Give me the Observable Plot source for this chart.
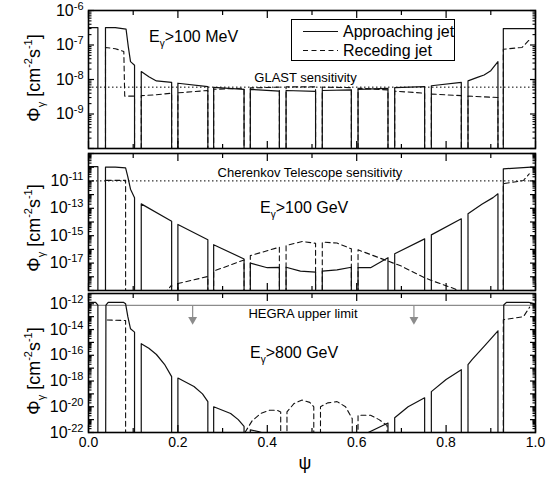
<!DOCTYPE html>
<html><head><meta charset="utf-8">
<script src="https://cdn.jsdelivr.net/npm/d3@7"></script>
<script src="https://cdn.jsdelivr.net/npm/@observablehq/plot@0.6"></script>
<style>
body{margin:0;background:#fff;}
#chart{width:556px;height:478px;background:#fff;}
#chart svg{display:block;}
</style></head><body><div id="chart"></div>
<script>
const F = 1e-30; // off-scale floor: curve drops out of the panel

// ---- Panel 1: E_gamma > 100 MeV  [psi, flux]
const app100MeV = [
[0,3.2e-7],[0.021,3.2e-7],[0.021,F],
[0.038,F],[0.038,3.2e-7],[0.06,3.2e-7],[0.084,2.9e-7],[0.089,9e-8],[0.094,3.3e-8],[0.103,2.6e-8],[0.103,F],
[0.118,F],[0.118,1.7e-8],[0.135,1.2e-8],[0.152,9.1e-9],[0.186,8.3e-9],[0.186,F],
[0.200,F],[0.200,7.8e-9],[0.267,6.2e-9],[0.267,F],
[0.280,F],[0.280,5.9e-9],[0.348,5.2e-9],[0.348,F],
[0.362,F],[0.362,5.2e-9],[0.427,4.6e-9],[0.427,F],
[0.442,F],[0.442,4.8e-9],[0.508,4.5e-9],[0.508,F],
[0.523,F],[0.523,4.8e-9],[0.588,5.0e-9],[0.588,F],
[0.603,F],[0.603,5.2e-9],[0.670,5.5e-9],[0.670,F],
[0.685,F],[0.685,5.8e-9],[0.752,6.2e-9],[0.752,F],
[0.767,F],[0.767,6.6e-9],[0.834,8.3e-9],[0.834,F],
[0.849,F],[0.849,9.1e-9],[0.87,1.15e-8],[0.885,1.35e-8],[0.9,1.8e-8],[0.916,3.3e-8],[0.916,F],
[0.928,F],[0.928,3.0e-7],[1.0,3.0e-7]
];
const rec100MeV = [
[0.038,F],[0.038,8.5e-8],[0.06,7.8e-8],[0.079,6.5e-8],[0.081,3.3e-9],[0.103,3.3e-9],[0.103,F],
[0.118,F],[0.118,3.4e-9],[0.15,3.6e-9],[0.186,4.0e-9],[0.186,F],
[0.2,F],[0.2,4.1e-9],[0.267,4.8e-9],[0.267,F],
[0.28,F],[0.28,5.2e-9],[0.348,5.6e-9],[0.348,F],
[0.362,F],[0.362,5.7e-9],[0.427,6.0e-9],[0.427,F],
[0.442,F],[0.442,6.1e-9],[0.508,6.1e-9],[0.508,F],
[0.523,F],[0.523,6.0e-9],[0.588,5.8e-9],[0.588,F],
[0.603,F],[0.603,5.6e-9],[0.670,5.0e-9],[0.670,F],
[0.685,F],[0.685,4.6e-9],[0.752,4.0e-9],[0.752,F],
[0.767,F],[0.767,3.8e-9],[0.834,3.4e-9],[0.834,F],
[0.849,F],[0.849,3.3e-9],[0.916,3.0e-9],[0.916,F],
[0.928,F],[0.928,7.5e-8],[0.97,8.5e-8],[0.986,1.4e-7]
];
const glastSensitivity = 6e-9;

// ---- Panel 2: E_gamma > 100 GeV
const app100GeV = [
[0,1.1e-10],[0.021,1.1e-10],[0.021,F],
[0.038,F],[0.038,1.0e-10],[0.06,1.0e-10],[0.083,9e-11],[0.088,2e-11],[0.094,2.5e-12],[0.103,6e-13],[0.103,F],
[0.118,F],[0.118,2.1e-13],[0.186,1.15e-14],[0.186,F],
[0.2,F],[0.2,6.6e-15],[0.267,5e-16],[0.267,F],
[0.28,F],[0.28,2.2e-16],[0.348,2e-17],[0.348,F],
[0.362,F],[0.362,1e-17],[0.40,4.6e-18],[0.427,4.8e-18],[0.427,F],
[0.442,F],[0.442,5e-18],[0.474,2.6e-18],[0.508,2.2e-18],[0.508,F],
[0.523,F],[0.523,2.6e-18],[0.556,3.2e-18],[0.588,5e-18],[0.588,F],
[0.603,F],[0.603,4.6e-18],[0.631,4.6e-18],[0.67,2.5e-17],[0.67,F],
[0.685,F],[0.685,4.8e-17],[0.752,5.9e-16],[0.752,F],
[0.767,F],[0.767,1.15e-15],[0.834,1.7e-14],[0.834,F],
[0.849,F],[0.849,4e-14],[0.88,2e-13],[0.905,6e-13],[0.916,1.15e-12],[0.916,F],
[0.928,F],[0.928,7.6e-11],[0.99,1e-10],[1.0,1e-10]
];
const rec100GeV = [
[0.04,1.1e-11],[0.083,1.1e-11],[0.083,F],
[0.15,1e-20],[0.186,2.5e-19],[0.186,F],
[0.2,F],[0.2,3.2e-19],[0.267,1.05e-18],[0.267,F],
[0.28,F],[0.28,2.6e-18],[0.348,1.7e-17],[0.348,F],
[0.362,F],[0.362,3.5e-17],[0.427,1.45e-16],[0.427,F],
[0.442,F],[0.442,1.9e-16],[0.478,3.8e-16],[0.508,2.8e-16],[0.508,F],
[0.523,F],[0.523,3.4e-16],[0.556,2.9e-16],[0.588,1.1e-16],[0.588,F],
[0.603,F],[0.603,9.3e-17],[0.67,1.4e-17],[0.70,6e-18],[0.752,8.5e-19],[0.77,5e-19],[0.82,1.3e-19],[0.84,5e-20],[0.84,F],
[0.928,F],[0.928,6.2e-12],[0.973,1.07e-11],[0.986,3.3e-11]
];
const cherenkovSensitivity = 1e-11;

// ---- Panel 3: E_gamma > 800 GeV
const app800GeV = [
[0,1.3e-12],[0.016,1.3e-12],[0.021,8e-13],[0.021,F],
[0.038,F],[0.039,8e-13],[0.044,1.3e-12],[0.078,1.3e-12],[0.083,1e-12],[0.088,1e-13],[0.094,1.15e-14],[0.103,6.3e-15],[0.103,F],
[0.118,F],[0.118,8e-16],[0.135,3.5e-16],[0.152,1.15e-16],[0.17,2e-17],[0.186,2.2e-18],[0.186,F],
[0.2,F],[0.2,1.7e-18],[0.236,3.7e-19],[0.255,1e-19],[0.267,2.5e-20],[0.267,F],
[0.28,F],[0.28,1e-20],[0.318,3e-21],[0.335,1e-21],[0.348,3e-22],[0.348,F],
[0.362,F],[0.362,1.6e-22],[0.38,1.2e-22],[0.395,8e-23],
[0.62,8e-23],[0.67,5.4e-22],[0.67,F],
[0.685,F],[0.685,1.4e-21],[0.715,1e-20],[0.752,5e-20],[0.752,F],
[0.767,F],[0.767,1.5e-19],[0.8,1.3e-18],[0.834,7.6e-18],[0.834,F],
[0.849,F],[0.849,1.9e-17],[0.859,5e-17],[0.885,5e-16],[0.916,8e-15],[0.916,F],
[0.928,F],[0.929,8e-13],[0.935,1.3e-12],[0.985,1.3e-12],[0.995,1.1e-12],[1.0,8e-13]
];
const rec800GeV = [
[0.042,5.5e-14],[0.083,5e-14],[0.083,F],
[0.35,1e-22],[0.366,8e-22],[0.385,3e-21],[0.405,5.4e-21],[0.422,5.4e-21],[0.43,4e-21],[0.43,F],
[0.444,F],[0.444,4e-21],[0.46,1.8e-20],[0.478,3.3e-20],[0.495,2.2e-20],[0.504,1e-20],[0.504,F],
[0.519,F],[0.519,1e-20],[0.535,2e-20],[0.556,2.5e-20],[0.575,1e-20],[0.59,1.2e-21],[0.59,F],
[0.603,F],[0.603,2.2e-21],[0.631,2.2e-21],[0.65,1e-21],[0.668,3.5e-22],[0.668,F],
[0.928,F],[0.928,5.8e-14],[0.973,1e-13],[0.987,5.5e-13]
];
const hegraLimit = 7.5e-13;
const hegraArrowPsi = [0.233, 0.728];
const hegraArrowTip = 6e-14;

// tick labels
const yLabels1 = [1e-6, 1e-7, 1e-8, 1e-9];
const yLabels2 = [1e-11, 1e-13, 1e-15, 1e-17];
const yLabels3 = [1e-12, 1e-14, 1e-16, 1e-18, 1e-20, 1e-22];
const xLabels = [0, 0.2, 0.4, 0.6, 0.8, 1.0];
const xMinor = [0.1, 0.3, 0.5, 0.7, 0.9];

const FONT = "'Liberation Sans', Arial, Helvetica, sans-serif";
const X = d => d[0], Y = d => d[1];

function logTicks([lo, hi]) {
  const dec = [], minor = [];
  for (let e = Math.floor(Math.log10(lo)); e <= Math.ceil(Math.log10(hi)); e++) {
    const p = Math.pow(10, e);
    if (p >= lo * 0.999 && p <= hi * 1.001) dec.push(p);
    for (let m = 2; m < 10; m++) { const v = m * p; if (v > lo && v < hi) minor.push(v); }
  }
  return [dec, minor];
}

function panel({height, marginTop, marginBottom, domain, labels, app, rec, extra, showX}) {
  const [dec, minor] = logTicks(domain);
  const marks = [
    ...extra,
    Plot.line(app, {x: X, y: Y, stroke: "#111", strokeWidth: 1.2, clip: true}),
    Plot.line(rec, {x: X, y: Y, stroke: "#111", strokeWidth: 1.1, strokeDasharray: "5,3.5", clip: true}),
    ...["left", "right"].flatMap(anchor => [
      Plot.axisY({anchor, ticks: dec, tickSize: -6, strokeWidth: 1.2, tickFormat: () => "", label: null}),
      Plot.axisY({anchor, ticks: minor, tickSize: -3.5, strokeWidth: 1.1, tickFormat: () => "", label: null})
    ]),
    Plot.axisY({anchor: "left", ticks: labels, tickSize: 0, tickPadding: 5, fontSize: 16,
      tickFormat: d => "10^" + Math.round(Math.log10(d)), label: null}),
    ...["top", "bottom"].flatMap(anchor => [
      Plot.axisX({anchor, ticks: xLabels, tickSize: -7, strokeWidth: 1.2, tickFormat: () => "", label: null}),
      Plot.axisX({anchor, ticks: xMinor, tickSize: -4, strokeWidth: 1.2, tickFormat: () => "", label: null})
    ]),
    showX ? Plot.axisX({anchor: "bottom", ticks: xLabels, tickSize: 0, tickPadding: 5, fontSize: 14,
      tickFormat: d3.format(".1f"), label: null}) : null,
    Plot.frame({stroke: "#000", strokeWidth: 1.6})
  ];
  const svg = Plot.plot({
    width: 556, height, marginLeft: 88, marginRight: 21, marginTop, marginBottom,
    x: {domain: [0, 1]},
    y: {type: "log", domain},
    style: {fontFamily: FONT, fontSize: "15px", color: "#000", background: "#fff", overflow: "visible"},
    marks
  });
  // superscript exponents on y tick labels
  d3.select(svg).selectAll("text").each(function() {
    const t = this.textContent, m = /^10\^(-?\d+)$/.exec(t);
    if (!m) return;
    const s = d3.select(this); s.text("");
    s.append("tspan").text("10");
    s.append("tspan").attr("dy", -6).attr("font-size", 11).text(m[1]);
  });
  return svg;
}

function rich(sel, parts, small, sub = 4, sup = -7) {
  let cur = 0;
  for (const [s, k] of parts) {
    const target = k === "sub" ? sub : k === "sup" ? sup : 0;
    const ts = sel.append("tspan").text(s);
    if (target !== cur) ts.attr("dy", target - cur);
    if (k) ts.attr("font-size", small);
    cur = target;
  }
}

function annotate(svg, psi, flux, parts, size, anchor = "start") {
  const x = svg.scale("x").apply(psi), y = svg.scale("y").apply(flux);
  const t = d3.select(svg).append("text").attr("x", x).attr("y", y).attr("dy", "0.35em")
    .attr("font-family", FONT).attr("font-size", size).attr("text-anchor", anchor).attr("fill", "#000");
  rich(t, parts, Math.round(size * 0.62), 5, -7);
}

function yTitle(svg, cy) {
  const t = d3.select(svg).append("text")
    .attr("transform", `translate(40,${cy}) rotate(-90)`)
    .attr("text-anchor", "middle").attr("font-family", FONT).attr("font-size", 18).attr("fill", "#000");
  rich(t, [["Φ"], ["γ", "sub"], [" [cm"], ["-2", "sup"], ["s"], ["-1", "sup"], ["]"]], 11, 5, -8);
}

const root = document.getElementById("chart");

// Panel 1
const p1 = panel({height: 150, marginTop: 10, marginBottom: 2, domain: [1e-10, 1e-6], labels: yLabels1,
  app: app100MeV, rec: rec100MeV, showX: false,
  extra: [Plot.ruleY([glastSensitivity], {stroke: "#000", strokeWidth: 1, strokeDasharray: "1.5,2.5"})]});
annotate(p1, 0.1365, 1.73e-7, [["E"], ["γ", "sub"], [">100 MeV"]], 16);
annotate(p1, 0.4866, 1.1e-8, [["GLAST sensitivity"]], 13, "middle");
yTitle(p1, 78);
{
  const g = d3.select(p1).append("g").attr("font-family", FONT).attr("font-size", 16)
    .attr("text-anchor", "start").attr("fill", "#000");
  g.append("rect").attr("x", 291.5).attr("y", 19.5).attr("width", 163).attr("height", 41)
    .attr("fill", "#fff").attr("stroke", "#000").attr("stroke-width", 1);
  g.append("line").attr("x1", 303).attr("x2", 338).attr("y1", 31.5).attr("y2", 31.5)
    .attr("stroke", "#111").attr("stroke-width", 1.2);
  g.append("line").attr("x1", 303).attr("x2", 338).attr("y1", 50.5).attr("y2", 50.5)
    .attr("stroke", "#111").attr("stroke-width", 1.1).attr("stroke-dasharray", "5,3.5");
  g.append("text").attr("x", 343).attr("y", 31.5).attr("dy", "0.35em").attr("text-anchor", "start").text("Approaching jet");
  g.append("text").attr("x", 343).attr("y", 50.5).attr("dy", "0.35em").attr("text-anchor", "start").text("Receding jet");
}
root.appendChild(p1);

// Panel 2
const p2 = panel({height: 141, marginTop: 3, marginBottom: 1, domain: [1e-19, 1e-9], labels: yLabels2,
  app: app100GeV, rec: rec100GeV, showX: false,
  extra: [Plot.ruleY([cherenkovSensitivity], {stroke: "#000", strokeWidth: 1, strokeDasharray: "1.5,2.5"})]});
annotate(p2, 0.4966, 3.6e-11, [["Cherenkov Telescope sensitivity"]], 13, "middle");
annotate(p2, 0.385, 1.15e-13, [["E"], ["γ", "sub"], [">100 GeV"]], 16);
yTitle(p2, 78);
root.appendChild(p2);

// Panel 3
const gray = "#8c8c8c";
const p3 = panel({height: 187, marginTop: 2, marginBottom: 46, domain: [1e-22, Math.pow(10, -11.2)], labels: yLabels3,
  app: app800GeV, rec: rec800GeV, showX: true,
  extra: [
    Plot.ruleY([hegraLimit], {stroke: gray, strokeWidth: 1.2}),
    Plot.ruleX(hegraArrowPsi, {x: d => d, y1: hegraLimit, y2: hegraArrowTip, stroke: gray, strokeWidth: 1.2}),
    Plot.dot(hegraArrowPsi, {x: d => d, y: hegraArrowTip, symbol: "triangle", rotate: 180, r: 3.3, fill: gray, stroke: null})
  ]});
annotate(p3, 0.481, 1.5e-13, [["HEGRA upper limit"]], 13, "middle");
annotate(p3, 0.3624, 1.66e-16, [["E"], ["γ", "sub"], [">800 GeV"]], 16);
yTitle(p3, 80);
d3.select(p3).append("text").attr("x", 305).attr("y", 172).attr("dy", "0.35em")
  .attr("text-anchor", "middle").attr("font-family", FONT).attr("font-size", 18).text("ψ");
root.appendChild(p3);
</script>
</body></html>
